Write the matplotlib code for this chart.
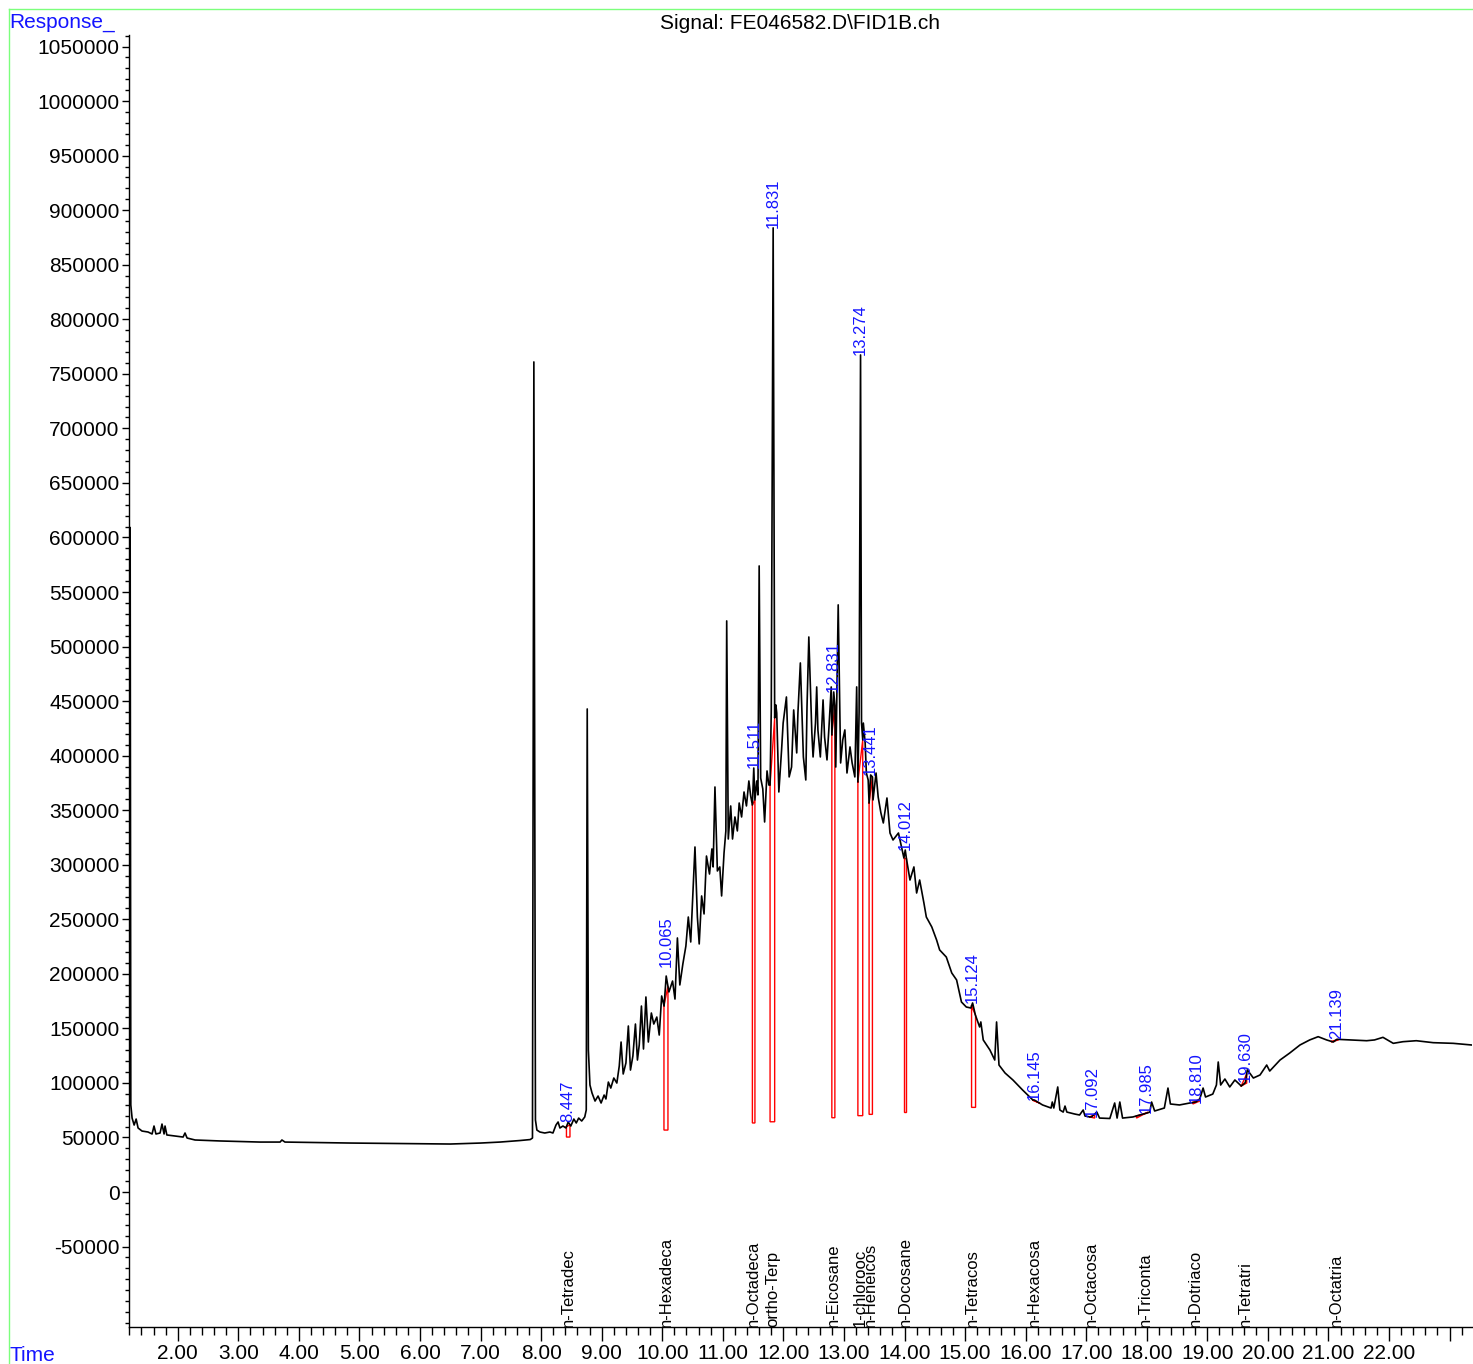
"""
Recreate the FID chromatogram (Signal: FE046582.D\\FID1B.ch) with peak
integration marks, retention time labels and compound names.
"""

import numpy as np
import matplotlib.pyplot as plt
from matplotlib.lines import Line2D


# ==================== DATA ====================
# Detector trace (time in min, response in counts)
TIME = [
    1.214, 1.225, 1.246, 1.28, 1.313, 1.345, 1.41, 1.51, 1.576, 1.608,
    1.64, 1.708, 1.74, 1.774, 1.79, 1.82, 1.955, 2.088, 2.12, 2.154,
    2.286, 2.70, 3.36, 3.69, 3.72, 3.77, 4.85, 5.67, 6.50, 7.00,
    7.32, 7.65, 7.82, 7.857, 7.88, 7.906, 7.93, 7.98, 8.06, 8.145,
    8.195, 8.245, 8.28, 8.31, 8.36, 8.41, 8.447, 8.49, 8.54, 8.58,
    8.62, 8.67, 8.72, 8.745, 8.761, 8.78, 8.806, 8.84, 8.89, 8.94,
    8.99, 9.04, 9.07, 9.11, 9.15, 9.20, 9.25, 9.29, 9.32, 9.355,
    9.40, 9.44, 9.475, 9.515, 9.557, 9.59, 9.62, 9.656, 9.69, 9.73,
    9.77, 9.82, 9.86, 9.91, 9.95, 9.99, 10.03, 10.065, 10.11, 10.17,
    10.21, 10.25, 10.29, 10.34, 10.39, 10.43, 10.47, 10.51, 10.54, 10.58,
    10.61, 10.65, 10.69, 10.73, 10.78, 10.82, 10.84, 10.87, 10.91, 10.95,
    10.98, 11.02, 11.05, 11.064, 11.09, 11.13, 11.16, 11.20, 11.24, 11.27,
    11.31, 11.35, 11.39, 11.43, 11.46, 11.488, 11.511, 11.53, 11.56, 11.58,
    11.60, 11.625, 11.66, 11.69, 11.73, 11.76, 11.78, 11.80, 11.831, 11.856,
    11.876, 11.89, 11.925, 11.97, 11.996, 12.05, 12.095, 12.135, 12.17, 12.22,
    12.24, 12.28, 12.33, 12.37, 12.39, 12.42, 12.47, 12.49, 12.53, 12.55,
    12.57, 12.61, 12.655, 12.68, 12.72, 12.75, 12.79, 12.80, 12.831, 12.85,
    12.865, 12.905, 12.945, 12.98, 13.015, 13.05, 13.10, 13.135, 13.18, 13.21,
    13.23, 13.25, 13.274, 13.29, 13.31, 13.32, 13.35, 13.37, 13.40, 13.415,
    13.441, 13.47, 13.48, 13.53, 13.565, 13.61, 13.65, 13.71, 13.76, 13.81,
    13.90, 13.95, 13.99, 14.012, 14.03, 14.09, 14.155, 14.20, 14.25, 14.32,
    14.36, 14.45, 14.53, 14.58, 14.69, 14.78, 14.86, 14.94, 15.02, 15.095,
    15.124, 15.17, 15.24, 15.26, 15.30, 15.41, 15.49, 15.52, 15.56, 15.66,
    15.79, 15.95, 16.12, 16.145, 16.28, 16.42, 16.44, 16.465, 16.53, 16.565,
    16.62, 16.65, 16.68, 16.81, 16.89, 16.95, 16.98, 17.06, 17.092, 17.175,
    17.22, 17.39, 17.47, 17.51, 17.555, 17.60, 17.77, 17.94, 17.985, 18.05,
    18.08, 18.13, 18.29, 18.35, 18.39, 18.54, 18.71, 18.81, 18.875, 18.93,
    18.97, 19.09, 19.15, 19.18, 19.22, 19.29, 19.37, 19.455, 19.56, 19.62,
    19.63, 19.66, 19.76, 19.87, 19.98, 20.03, 20.20, 20.36, 20.53, 20.69,
    20.83, 20.97, 21.08, 21.139, 21.35, 21.63, 21.76, 21.90, 22.07, 22.23,
    22.45, 22.73, 23.06, 23.36,
]
RESPONSE = [
    609000, 79800, 67800, 61400, 66900, 58700, 55900, 55000, 53200, 60500,
    53200, 54100, 62300, 53200, 60500, 52300, 51300, 50400, 54100, 49500,
    47700, 46800, 45800, 45800, 47700, 45800, 44900, 44500, 44000, 44900,
    45800, 47200, 48100, 49500, 760900, 66000, 56800, 55000, 54100, 55000,
    54100, 61400, 64200, 58700, 60500, 58700, 64200, 60500, 66900, 63300,
    67800, 65100, 68800, 75200, 442800, 130200, 98100, 90800, 83400, 88000,
    81600, 88900, 85300, 100800, 95300, 104500, 99900, 115500, 137500, 108200,
    118300, 152200, 111800, 124700, 154000, 121000, 134800, 170500, 131100, 178800,
    137500, 164100, 154000, 160400, 143900, 179700, 170500, 198000, 183400, 193400,
    176900, 232900, 189800, 209000, 225500, 252100, 229200, 277800, 316300, 252100,
    227400, 271400, 254900, 308000, 291500, 314500, 298000, 371300, 294300, 298000,
    271400, 310800, 331000, 523500, 323600, 353900, 323600, 343800, 331000, 356600,
    343800, 366700, 353900, 376800, 363000, 354800, 388700, 359400, 376800, 364000,
    573900, 379500, 369500, 339200, 386000, 373100, 373100, 441900, 883800, 434600,
    446500, 439100, 366700, 405200, 429900, 453800, 380500, 389600, 441900, 402500,
    439100, 485000, 398800, 377700, 444600, 508800, 420800, 398800, 429900, 463000,
    423600, 398800, 451100, 417100, 396100, 423600, 463000, 419000, 458400, 446500,
    389600, 538200, 393300, 414400, 423600, 384100, 408000, 393300, 380500, 463000,
    375900, 440000, 767300, 430000, 414400, 429900, 411600, 384100, 377700, 356600,
    382300, 380500, 359400, 384100, 362100, 347500, 338300, 361200, 329100, 322700,
    329100, 316300, 306200, 313500, 306200, 286000, 298000, 274100, 286000, 265000,
    252100, 243000, 231000, 221900, 215400, 200800, 194400, 174200, 169600, 168700,
    173300, 162300, 151300, 155900, 139400, 130200, 121000, 155900, 116400, 109100,
    102700, 93500, 84300, 84300, 79800, 77000, 82500, 77000, 96300, 75200,
    73300, 78800, 73300, 71500, 70600, 75200, 69700, 68800, 69000, 73300,
    67800, 67400, 81600, 67800, 82500, 67800, 68800, 71500, 72100, 73300,
    82500, 74300, 77000, 95300, 80700, 79800, 81600, 82500, 85300, 95300,
    87100, 89800, 98100, 119200, 98100, 103600, 96300, 102700, 97200, 99900,
    101100, 112000, 104500, 107300, 116400, 110900, 121000, 127400, 134800, 139400,
    142400, 139400, 137500, 140000, 139400, 138700, 139400, 141800, 136300, 137800,
    138700, 136900, 136300, 134800,
]

# Integrated peaks
PEAK_RT = [8.447, 10.065, 11.511, 11.831, 12.831, 13.274, 13.441, 14.012,
           15.124, 16.145, 17.092, 17.985, 18.810, 19.630, 21.139]
PEAK_TOP = [64400, 206000, 388700, 883800, 458700, 767300, 382300, 313500,
            173300, 84300, 69000, 72100, 81300, 101100, 140000]
PEAK_START = [8.418, 10.028, 11.488, 11.78, 12.80, 13.23, 13.415, 13.99,
              15.107, 16.12, 17.06, 17.83, 18.76, 19.56, 21.05]
PEAK_END = [8.476, 10.094, 11.53, 11.856, 12.85, 13.31, 13.47, 14.03,
            15.173, 16.23, 17.14, 18.02, 18.875, 19.65, 21.16]
BASE_START = [50400, 56800, 63300, 64400, 68100, 70000, 71200, 73000,
              77600, 84000, 68800, 67800, 80700, 97200, 137500]
BASE_END = [50400, 56800, 63300, 64400, 68100, 70000, 71200, 73000,
            77600, 81600, 67800, 73300, 83400, 99900, 139400]
COMPOUNDS = ['n-Tetradec', 'n-Hexadeca', 'n-Octadeca', 'ortho-Terp',
             'n-Eicosane', '1-chlorooc', 'n-Heneicos', 'n-Docosane',
             'n-Tetracos', 'n-Hexacosa', 'n-Octacosa', 'n-Triconta',
             'n-Dotriaco', 'n-Tetratri', 'n-Octatria']

TITLE = 'Signal: FE046582.D\\FID1B.ch'
X_MAJOR = list(range(2, 24))
Y_MAJOR = list(range(-50000, 1050001, 50000))

# ==================== STYLE ====================
W, H = 1473, 1364
FONT = ['Liberation Sans', 'DejaVu Sans']
TICK_SIZE = 15
SMALL_SIZE = 12
LABEL_BLUE = '#1414ff'
FRAME_GREEN = '#7cff7c'


def draw_integration(ax, t, r):
    """Red integration outlines: baseline plus drop lines to the signal."""
    for ts, te, bs, be in zip(PEAK_START, PEAK_END, BASE_START, BASE_END):
        ss = np.interp(ts, t, r)
        se = np.interp(te, t, r)
        ax.plot([ts, ts, te, te, ts], [ss, bs, be, se, ss],
                color='red', lw=1.0, zorder=2, solid_joinstyle='miter')


def main():
    plt.rcParams['font.family'] = FONT

    fig = plt.figure(figsize=(W / 100, H / 100), dpi=100)
    ax = fig.add_axes([129.3 / W, 1 - 1327.3 / H, (1472 - 129.3) / W,
                       (1327.3 - 35) / H])

    t = np.array(TIME)
    r = np.array(RESPONSE)

    draw_integration(ax, t, r)
    ax.plot(t, r, color='black', lw=1.2, zorder=3)

    ax.set_xlim(1.201, 23.37)
    ax.set_ylim(-124000, 1060600)

    # retention time labels above the peaks
    for rt, top in zip(PEAK_RT, PEAK_TOP):
        ax.text(rt, top, f'{rt:.3f}', rotation=90, ha='center', va='bottom',
                color=LABEL_BLUE, fontsize=SMALL_SIZE, zorder=4)

    # compound names along the bottom of the plot
    for rt, name in zip(PEAK_RT, COMPOUNDS):
        ax.text(rt, -124000, name, rotation=90, ha='center', va='bottom',
                color='black', fontsize=SMALL_SIZE, zorder=4)

    # axes styling
    for side in ['top', 'right']:
        ax.spines[side].set_visible(False)
    for side in ['left', 'bottom']:
        ax.spines[side].set_linewidth(1.0)

    ax.set_xticks(X_MAJOR)
    ax.set_xticklabels([f'{v:.2f}' if v <= 22 else '' for v in X_MAJOR])
    ax.set_xticks(np.arange(1.2, 23.37, 0.2), minor=True)
    ax.set_yticks(Y_MAJOR)
    ax.set_yticklabels([str(v) for v in Y_MAJOR])
    ax.set_yticks(np.arange(-120000, 1060001, 10000), minor=True)

    ax.tick_params(axis='x', which='major', length=10, width=1, pad=2,
                   labelsize=TICK_SIZE)
    ax.tick_params(axis='x', which='minor', length=6, width=1)
    ax.tick_params(axis='y', which='major', length=5, width=1, pad=2,
                   labelsize=TICK_SIZE)
    ax.tick_params(axis='y', which='minor', length=3, width=1)

    # page texts
    fig.text(9 / W, 1 - 28 / H, 'Response_', color=LABEL_BLUE,
             fontsize=TICK_SIZE, ha='left', va='baseline')
    fig.text(10 / W, 1 - 1361 / H, 'Time', color=LABEL_BLUE,
             fontsize=TICK_SIZE, ha='left', va='baseline')
    fig.text(800 / W, 1 - 29 / H, TITLE, color='black',
             fontsize=TICK_SIZE, ha='center', va='baseline')

    # green page frame
    fig.add_artist(Line2D([8.5 / W, 8.5 / W], [0, 1 - 8.5 / H],
                          color=FRAME_GREEN, lw=1, transform=fig.transFigure))
    fig.add_artist(Line2D([8.5 / W, 1], [1 - 8.5 / H, 1 - 8.5 / H],
                          color=FRAME_GREEN, lw=1, transform=fig.transFigure))

    fig.savefig('out.png', dpi=100)
    plt.close(fig)


if __name__ == '__main__':
    main()
